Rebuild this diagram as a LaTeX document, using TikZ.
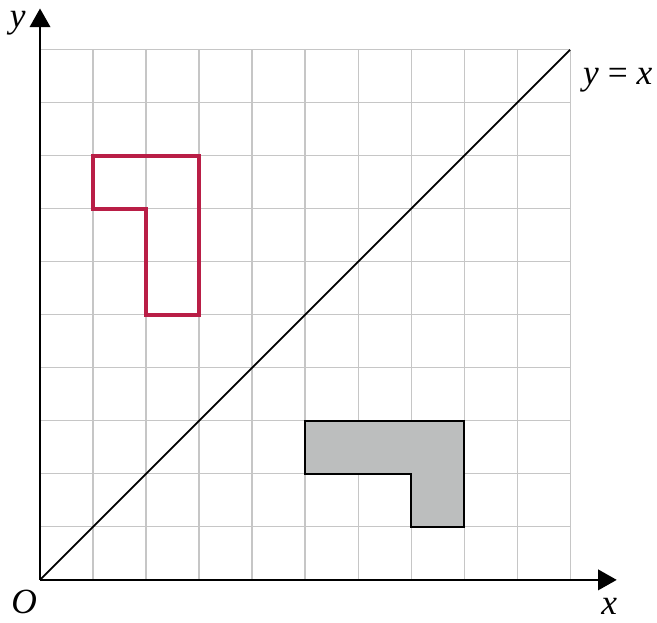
\documentclass[tikz,border=0pt]{standalone}
\usepackage{fontspec}
\setmainfont{Liberation Serif}
\usepackage{xcolor}
\usetikzlibrary{arrows.meta}
\definecolor{penred}{RGB}{185,30,70}
\definecolor{shade}{RGB}{188,190,190}
\tikzset{
  gridline/.style={gray!45,line width=0.6pt},
  axis/.style={-{Triangle[length=10pt,width=11pt]},line width=1.1pt},
  shapeline/.style={line width=1.4pt,line join=miter},
  lbl/.style={font=\fontsize{19}{21}\selectfont\itshape,inner sep=0pt},
}

\begin{document}
\begin{tikzpicture}
  \useasboundingbox (-0.755,-0.811) rectangle (11.64,10.94);
  \draw[gridline] (0,0) grid (10,10);

  % shapes
  \draw[shapeline,penred,line width=1.8pt] (1,8) -- (3,8) -- (3,5) -- (2,5) -- (2,7) -- (1,7) -- cycle;
  \draw[shapeline,fill=shade] (5,3) -- (8,3) -- (8,1) -- (7,1) -- (7,2) -- (5,2) -- cycle;

  % axes and mirror line
  \coordinate (O) at (0,0);
  \coordinate (xend) at (10.88,0);
  \coordinate (yend) at (0,10.78);
  \coordinate (diag) at (10,10);
  \draw[axis] (O) -- (xend);
  \draw[axis] (O) -- (yend);
  \draw[line width=0.9pt] (O) -- (diag);

  \node[lbl] (ylab) at (-0.42,10.5) {y};
  \node[lbl] (xlab) at (10.74,-0.5) {x};
  \node[lbl] (olab) at (-0.3,-0.42) {O};
  \node[lbl] (linelab) at (10.9,9.42) {y \upshape= \itshape x};
\end{tikzpicture}
\end{document}
